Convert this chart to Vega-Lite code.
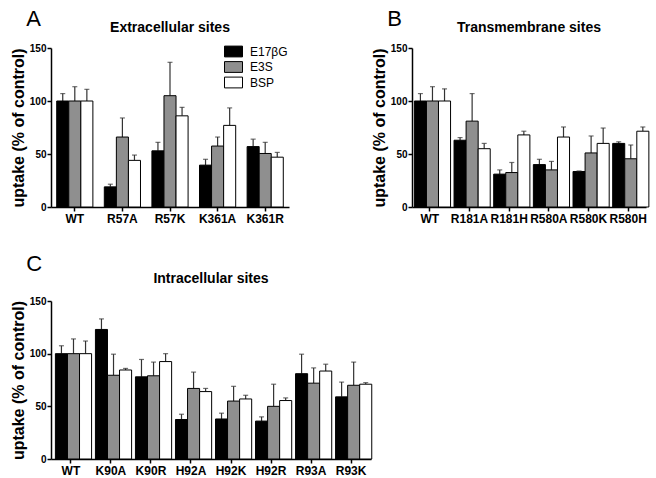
{
  "$schema": "https://vega.github.io/schema/vega-lite/v6.json",
  "padding": {"left": 10, "top": 8, "right": 5, "bottom": 0},
  "background": "white",
  "datasets": {
    "A": [
      {"mutant": "WT", "substrate": "E17βG", "value": 100, "upper": 107},
      {"mutant": "WT", "substrate": "E3S", "value": 100, "upper": 113.5},
      {"mutant": "WT", "substrate": "BSP", "value": 100, "upper": 111},
      {"mutant": "R57A", "substrate": "E17βG", "value": 19, "upper": 21.5},
      {"mutant": "R57A", "substrate": "E3S", "value": 66, "upper": 84},
      {"mutant": "R57A", "substrate": "BSP", "value": 44, "upper": 49},
      {"mutant": "R57K", "substrate": "E17βG", "value": 53, "upper": 61},
      {"mutant": "R57K", "substrate": "E3S", "value": 105, "upper": 136.5},
      {"mutant": "R57K", "substrate": "BSP", "value": 86, "upper": 94},
      {"mutant": "K361A", "substrate": "E17βG", "value": 39.5, "upper": 45},
      {"mutant": "K361A", "substrate": "E3S", "value": 57.5, "upper": 66},
      {"mutant": "K361A", "substrate": "BSP", "value": 77, "upper": 93.5},
      {"mutant": "K361R", "substrate": "E17βG", "value": 57, "upper": 64},
      {"mutant": "K361R", "substrate": "E3S", "value": 50.5, "upper": 61},
      {"mutant": "K361R", "substrate": "BSP", "value": 47, "upper": 51.5}
    ],
    "B": [
      {"mutant": "WT", "substrate": "E17βG", "value": 100, "upper": 107},
      {"mutant": "WT", "substrate": "E3S", "value": 100, "upper": 113.5},
      {"mutant": "WT", "substrate": "BSP", "value": 100, "upper": 111.5},
      {"mutant": "R181A", "substrate": "E17βG", "value": 63, "upper": 65.5},
      {"mutant": "R181A", "substrate": "E3S", "value": 81, "upper": 107},
      {"mutant": "R181A", "substrate": "BSP", "value": 55, "upper": 60},
      {"mutant": "R181H", "substrate": "E17βG", "value": 31, "upper": 35},
      {"mutant": "R181H", "substrate": "E3S", "value": 32.5, "upper": 42},
      {"mutant": "R181H", "substrate": "BSP", "value": 68, "upper": 71.5},
      {"mutant": "R580A", "substrate": "E17βG", "value": 40, "upper": 45},
      {"mutant": "R580A", "substrate": "E3S", "value": 35, "upper": 43},
      {"mutant": "R580A", "substrate": "BSP", "value": 66, "upper": 75.5},
      {"mutant": "R580K", "substrate": "E17βG", "value": 33.5, "upper": 34},
      {"mutant": "R580K", "substrate": "E3S", "value": 51, "upper": 67},
      {"mutant": "R580K", "substrate": "BSP", "value": 60, "upper": 74.5},
      {"mutant": "R580H", "substrate": "E17βG", "value": 60, "upper": 61.5},
      {"mutant": "R580H", "substrate": "E3S", "value": 45.5, "upper": 58.5},
      {"mutant": "R580H", "substrate": "BSP", "value": 71.5, "upper": 75.5}
    ],
    "C": [
      {"mutant": "WT", "substrate": "E17βG", "value": 100, "upper": 107.5},
      {"mutant": "WT", "substrate": "E3S", "value": 100, "upper": 114},
      {"mutant": "WT", "substrate": "BSP", "value": 100, "upper": 112},
      {"mutant": "K90A", "substrate": "E17βG", "value": 123, "upper": 133},
      {"mutant": "K90A", "substrate": "E3S", "value": 79.5, "upper": 99.5},
      {"mutant": "K90A", "substrate": "BSP", "value": 84.5, "upper": 86},
      {"mutant": "K90R", "substrate": "E17βG", "value": 78, "upper": 94.5},
      {"mutant": "K90R", "substrate": "E3S", "value": 79, "upper": 92},
      {"mutant": "K90R", "substrate": "BSP", "value": 92.5, "upper": 100},
      {"mutant": "H92A", "substrate": "E17βG", "value": 37.5, "upper": 42.5},
      {"mutant": "H92A", "substrate": "E3S", "value": 67, "upper": 82.5},
      {"mutant": "H92A", "substrate": "BSP", "value": 64, "upper": 67},
      {"mutant": "H92K", "substrate": "E17βG", "value": 38, "upper": 43.5},
      {"mutant": "H92K", "substrate": "E3S", "value": 55, "upper": 69},
      {"mutant": "H92K", "substrate": "BSP", "value": 57, "upper": 60.5},
      {"mutant": "H92R", "substrate": "E17βG", "value": 36, "upper": 40},
      {"mutant": "H92R", "substrate": "E3S", "value": 50, "upper": 71},
      {"mutant": "H92R", "substrate": "BSP", "value": 55.5, "upper": 58},
      {"mutant": "R93A", "substrate": "E17βG", "value": 81, "upper": 99.5},
      {"mutant": "R93A", "substrate": "E3S", "value": 72, "upper": 86.5},
      {"mutant": "R93A", "substrate": "BSP", "value": 83.5, "upper": 90},
      {"mutant": "R93K", "substrate": "E17βG", "value": 59, "upper": 73},
      {"mutant": "R93K", "substrate": "E3S", "value": 70, "upper": 92},
      {"mutant": "R93K", "substrate": "BSP", "value": 71, "upper": 72.5}
    ]
  },
  "vconcat": [
    {
      "hconcat": [
        {
          "title": {"text": "A", "anchor": "start", "fontSize": 22, "fontWeight": "normal", "dx": 16, "offset": -10},
          "vconcat": [
            {
              "data": {"name": "A"},
              "width": 238,
              "height": 159,
              "title": {"text": "Extracellular sites", "fontSize": 14, "fontWeight": "bold", "anchor": "middle", "offset": 8},
              "encoding": {
                "x": {"field": "mutant", "type": "nominal", "sort": null,
                  "scale": {"paddingInner": 0.24, "paddingOuter": 0.12},
                  "axis": {"title": null}},
                "xOffset": {"field": "substrate", "type": "nominal", "sort": ["E17βG", "E3S", "BSP"], "scale": {"paddingInner": 0, "paddingOuter": 0}}
              },
              "layer": [
                {
                  "mark": {"type": "rule", "color": "#333333", "strokeWidth": 1.2},
                  "encoding": {
                    "y": {"field": "value", "type": "quantitative"},
                    "y2": {"field": "upper"}
                  }
                },
                {
                  "mark": {"type": "bar", "stroke": "black", "strokeWidth": 1},
                  "encoding": {
                    "y": {"field": "value", "type": "quantitative", "scale": {"domain": [0, 150], "nice": false},
                      "axis": {"title": "uptake (% of control)", "values": [0, 50, 100, 150]}},
                    "fill": {"field": "substrate", "type": "nominal", "sort": ["E17βG", "E3S", "BSP"],
                      "scale": {"domain": ["E17βG", "E3S", "BSP"], "range": ["#000000", "#8f8f8f", "#ffffff"]},
                      "legend": {"title": null, "orient": "none", "legendX": 176, "legendY": -3}}
                  }
                },
                {
                  "mark": {"type": "tick", "color": "#333333", "thickness": 1.2, "size": 5, "orient": "horizontal"},
                  "encoding": {
                    "y": {"field": "upper", "type": "quantitative"}
                  }
                }
              ]
            }
          ]
        },
        {
          "title": {"text": "B", "anchor": "start", "fontSize": 22, "fontWeight": "normal", "dx": 16, "offset": -10},
          "vconcat": [
            {
              "data": {"name": "B"},
              "width": 234,
              "height": 159,
              "title": {"text": "Transmembrane sites", "fontSize": 14, "fontWeight": "bold", "anchor": "middle", "offset": 8},
              "encoding": {
                "x": {"field": "mutant", "type": "nominal", "sort": null,
                  "scale": {"paddingInner": 0.22, "paddingOuter": 0.06},
                  "axis": {"title": null}},
                "xOffset": {"field": "substrate", "type": "nominal", "sort": ["E17βG", "E3S", "BSP"], "scale": {"paddingInner": 0, "paddingOuter": 0}}
              },
              "layer": [
                {
                  "mark": {"type": "rule", "color": "#333333", "strokeWidth": 1.2},
                  "encoding": {
                    "y": {"field": "value", "type": "quantitative"},
                    "y2": {"field": "upper"}
                  }
                },
                {
                  "mark": {"type": "bar", "stroke": "black", "strokeWidth": 1},
                  "encoding": {
                    "y": {"field": "value", "type": "quantitative", "scale": {"domain": [0, 150], "nice": false},
                      "axis": {"title": "uptake (% of control)", "values": [0, 50, 100, 150]}},
                    "fill": {"field": "substrate", "type": "nominal", "sort": ["E17βG", "E3S", "BSP"],
                      "scale": {"domain": ["E17βG", "E3S", "BSP"], "range": ["#000000", "#8f8f8f", "#ffffff"]},
                      "legend": null}
                  }
                },
                {
                  "mark": {"type": "tick", "color": "#333333", "thickness": 1.2, "size": 5, "orient": "horizontal"},
                  "encoding": {
                    "y": {"field": "upper", "type": "quantitative"}
                  }
                }
              ]
            }
          ]
        }
      ],
      "spacing": 82
    },
    {
      "title": {"text": "C", "anchor": "start", "fontSize": 22, "fontWeight": "normal", "dx": 16, "offset": -4},
      "vconcat": [
        {
          "data": {"name": "C"},
          "width": 320,
          "height": 158,
          "title": {"text": "Intracellular sites", "fontSize": 14, "fontWeight": "bold", "anchor": "middle", "offset": 10},
          "encoding": {
            "x": {"field": "mutant", "type": "nominal", "sort": null,
              "scale": {"paddingInner": 0.225, "paddingOuter": 0.11},
              "axis": {"title": null}},
            "xOffset": {"field": "substrate", "type": "nominal", "sort": ["E17βG", "E3S", "BSP"], "scale": {"paddingInner": 0, "paddingOuter": 0}}
          },
          "layer": [
            {
              "mark": {"type": "rule", "color": "#333333", "strokeWidth": 1.2},
              "encoding": {
                "y": {"field": "value", "type": "quantitative"},
                "y2": {"field": "upper"}
              }
            },
            {
              "mark": {"type": "bar", "stroke": "black", "strokeWidth": 1},
              "encoding": {
                "y": {"field": "value", "type": "quantitative", "scale": {"domain": [0, 150], "nice": false},
                  "axis": {"title": "uptake (% of control)", "values": [0, 50, 100, 150]}},
                "fill": {"field": "substrate", "type": "nominal", "sort": ["E17βG", "E3S", "BSP"],
                  "scale": {"domain": ["E17βG", "E3S", "BSP"], "range": ["#000000", "#8f8f8f", "#ffffff"]},
                  "legend": null}
              }
            },
            {
              "mark": {"type": "tick", "color": "#333333", "thickness": 1.2, "size": 5, "orient": "horizontal"},
              "encoding": {
                "y": {"field": "upper", "type": "quantitative"}
              }
            }
          ]
        }
      ]
    }
  ],
  "spacing": 29,
  "resolve": {"scale": {"fill": "independent"}},
  "config": {
    "font": "Liberation Sans",
    "view": {"stroke": null},
    "title": {"color": "black", "font": "Liberation Sans"},
    "axis": {
      "domainColor": "black", "domainWidth": 1.5,
      "tickColor": "black", "tickWidth": 1.5, "tickSize": 4,
      "labelColor": "black", "labelFont": "Liberation Sans", "labelFontWeight": "bold",
      "titleColor": "black", "titleFont": "Liberation Sans", "titleFontWeight": "bold",
      "grid": false
    },
    "axisX": {"labelAngle": 0, "labelFontSize": 12, "labelPadding": 2},
    "axisY": {"labelFontSize": 10, "labelPadding": 1, "titleFontSize": 16, "titlePadding": 3},
    "legend": {
      "labelFontSize": 12, "labelFont": "Liberation Sans", "labelColor": "black",
      "symbolType": "M-1.5,-0.9H1.5V0.9H-1.5Z", "symbolSize": 144,
      "symbolStrokeColor": "black", "symbolStrokeWidth": 1,
      "rowPadding": 0.5, "labelOffset": 10
    }
  }
}
